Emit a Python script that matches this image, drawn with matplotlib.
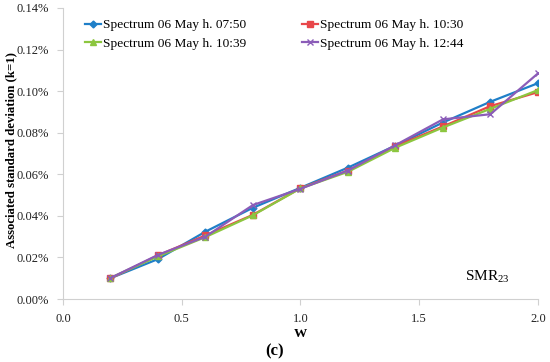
import matplotlib
matplotlib.use('Agg')
import matplotlib.pyplot as plt
from matplotlib.ticker import FuncFormatter

plt.rcParams['font.family'] = 'Liberation Serif'
plt.rcParams['mathtext.fontset'] = 'custom'
plt.rcParams['mathtext.rm'] = 'Liberation Serif'

# data (values in %)
w = [0.2, 0.4, 0.6, 0.8, 1.0, 1.2, 1.4, 1.6, 1.8, 2.0]
s0750 = [0.0100, 0.0192, 0.0324, 0.0439, 0.0535, 0.0632, 0.0738, 0.0849, 0.0949, 0.1038]
s1030 = [0.0099, 0.0210, 0.0306, 0.0405, 0.0533, 0.0618, 0.0735, 0.0830, 0.0928, 0.0995]
s1039 = [0.0102, 0.0205, 0.0298, 0.0403, 0.0532, 0.0612, 0.0728, 0.0825, 0.0915, 0.1005]
s1244 = [0.0101, 0.0212, 0.0300, 0.0452, 0.0530, 0.0618, 0.0740, 0.0864, 0.0889, 0.1085]
labels = ['Spectrum 06 May h. 07:50', 'Spectrum 06 May h. 10:30',
          'Spectrum 06 May h. 10:39', 'Spectrum 06 May h. 12:44']

fig = plt.figure(figsize=(5.5, 3.62), dpi=100)
ax = fig.add_axes([0.1145, 0.174, 0.8635, 0.804])

l1, = ax.plot(w, s0750, color='#1f7fc8', marker='D', ms=3.5, lw=1.6, label=labels[0])
l2, = ax.plot(w, s1030, color='#e8474a', marker='s', ms=4.5, lw=1.6, label=labels[1])
l3, = ax.plot(w, s1039, color='#8cc63f', marker='^', ms=4.5, lw=1.6, label=labels[2])
l4, = ax.plot(w, s1244, color='#8b5cb8', marker='x', ms=4.5, mew=1, lw=1.6, label=labels[3])

ax.set_xlim(0, 2.0)
ax.set_ylim(0, 0.14)
ax.set_xticks([0.0, 0.5, 1.0, 1.5, 2.0])
ax.set_yticks([0, 0.02, 0.04, 0.06, 0.08, 0.10, 0.12, 0.14])
ax.xaxis.set_major_formatter(FuncFormatter(lambda v, p: '%.1f' % v))
ax.yaxis.set_major_formatter(FuncFormatter(lambda v, p: '%.2f%%' % v))

for s in ['top', 'right']:
    ax.spines[s].set_visible(False)
for s in ['left', 'bottom']:
    ax.spines[s].set_color('#d0d0d0')
    ax.spines[s].set_linewidth(0.8)
ax.tick_params(colors='#d0d0d0', labelcolor='#222222', labelsize=9, length=4, width=0.8)
ax.tick_params(axis='x', pad=6)
ax.tick_params(axis='y', pad=6)

ax.set_xlabel('W', fontweight='bold', fontsize=9.5)
ax.xaxis.set_label_coords(0.5, -0.098)
ax.set_ylabel('Associated standard deviation (k=1)', fontweight='bold', fontsize=9.2)
ax.yaxis.set_label_coords(-0.097, 0.512)

ax.text(1.785, 0.0106, 'SMR$_{23}$', fontsize=11, ha='center', va='center')

ax.legend([l1, l3, l2, l4], [labels[0], labels[2], labels[1], labels[3]],
          ncol=2, frameon=False, loc='upper left', bbox_to_anchor=(0.03, 0.99),
          fontsize=9.6, handlelength=1.2, handletextpad=0.15, columnspacing=4.2,
          labelspacing=0.45, borderaxespad=0.2)

fig.text(0.5, 0.028, '(c)', fontweight='bold', fontsize=12, ha='center', va='center')

fig.savefig('out.png', dpi=100)
